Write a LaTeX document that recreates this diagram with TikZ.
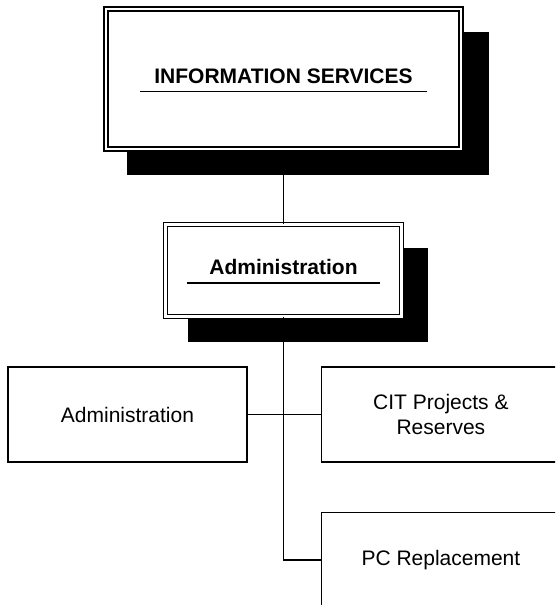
\documentclass[tikz,border=0pt]{standalone}
\usepackage{fontspec}
\setmainfont{Liberation Sans}
\usetikzlibrary{positioning}
\usetikzlibrary{shadows}
\setlength{\arrayrulewidth}{1.3pt}
\newcommand{\heading}[2]{\begin{tabular}{@{\hspace{#2}}c@{\hspace{#2}}}\textbf{#1}\\\hline\end{tabular}}

\begin{document}
\begin{tikzpicture}
	[x=1pt, y=-1pt, thick, font=\fontsize{21}{25}\selectfont,
	head/.style = {draw, double, line width=1.7pt, double distance=2.3pt, fill=white, inner sep=0pt,
		drop shadow={shadow xshift=24pt, shadow yshift=-24pt, shadow scale=1.02, fill=black, opacity=1}},
	unit/.style = {draw, line width=1.4pt, fill=white, minimum width=239pt, minimum height=95pt, inner sep=0pt, align=center},
	wire/.style = {line width=1.4pt}]
	\clip (0,0) rectangle (555,605);
	\node[head, minimum width=355pt, minimum height=140pt] (IS) at (283.5,79) {\heading{INFORMATION SERVICES}{14pt}};
	\node[head, minimum width=236pt, minimum height=92pt] (adm) at (283.5,270.5) {\heading{Administration}{22pt}};
	\node[unit] (admL) at (127.5,414.5) {Administration};
	\node[unit] (cit) [right = 73pt of admL] {CIT Projects \&\\Reserves};
	\node[unit] (pc) [below = 49pt of cit] {PC Replacement};
    
	\draw[wire] (IS) -- (adm);
	\draw[wire] (adm.south) |- (pc.west);
	\draw[wire] (admL) -- (cit);
    
\end{tikzpicture}
\end{document}
